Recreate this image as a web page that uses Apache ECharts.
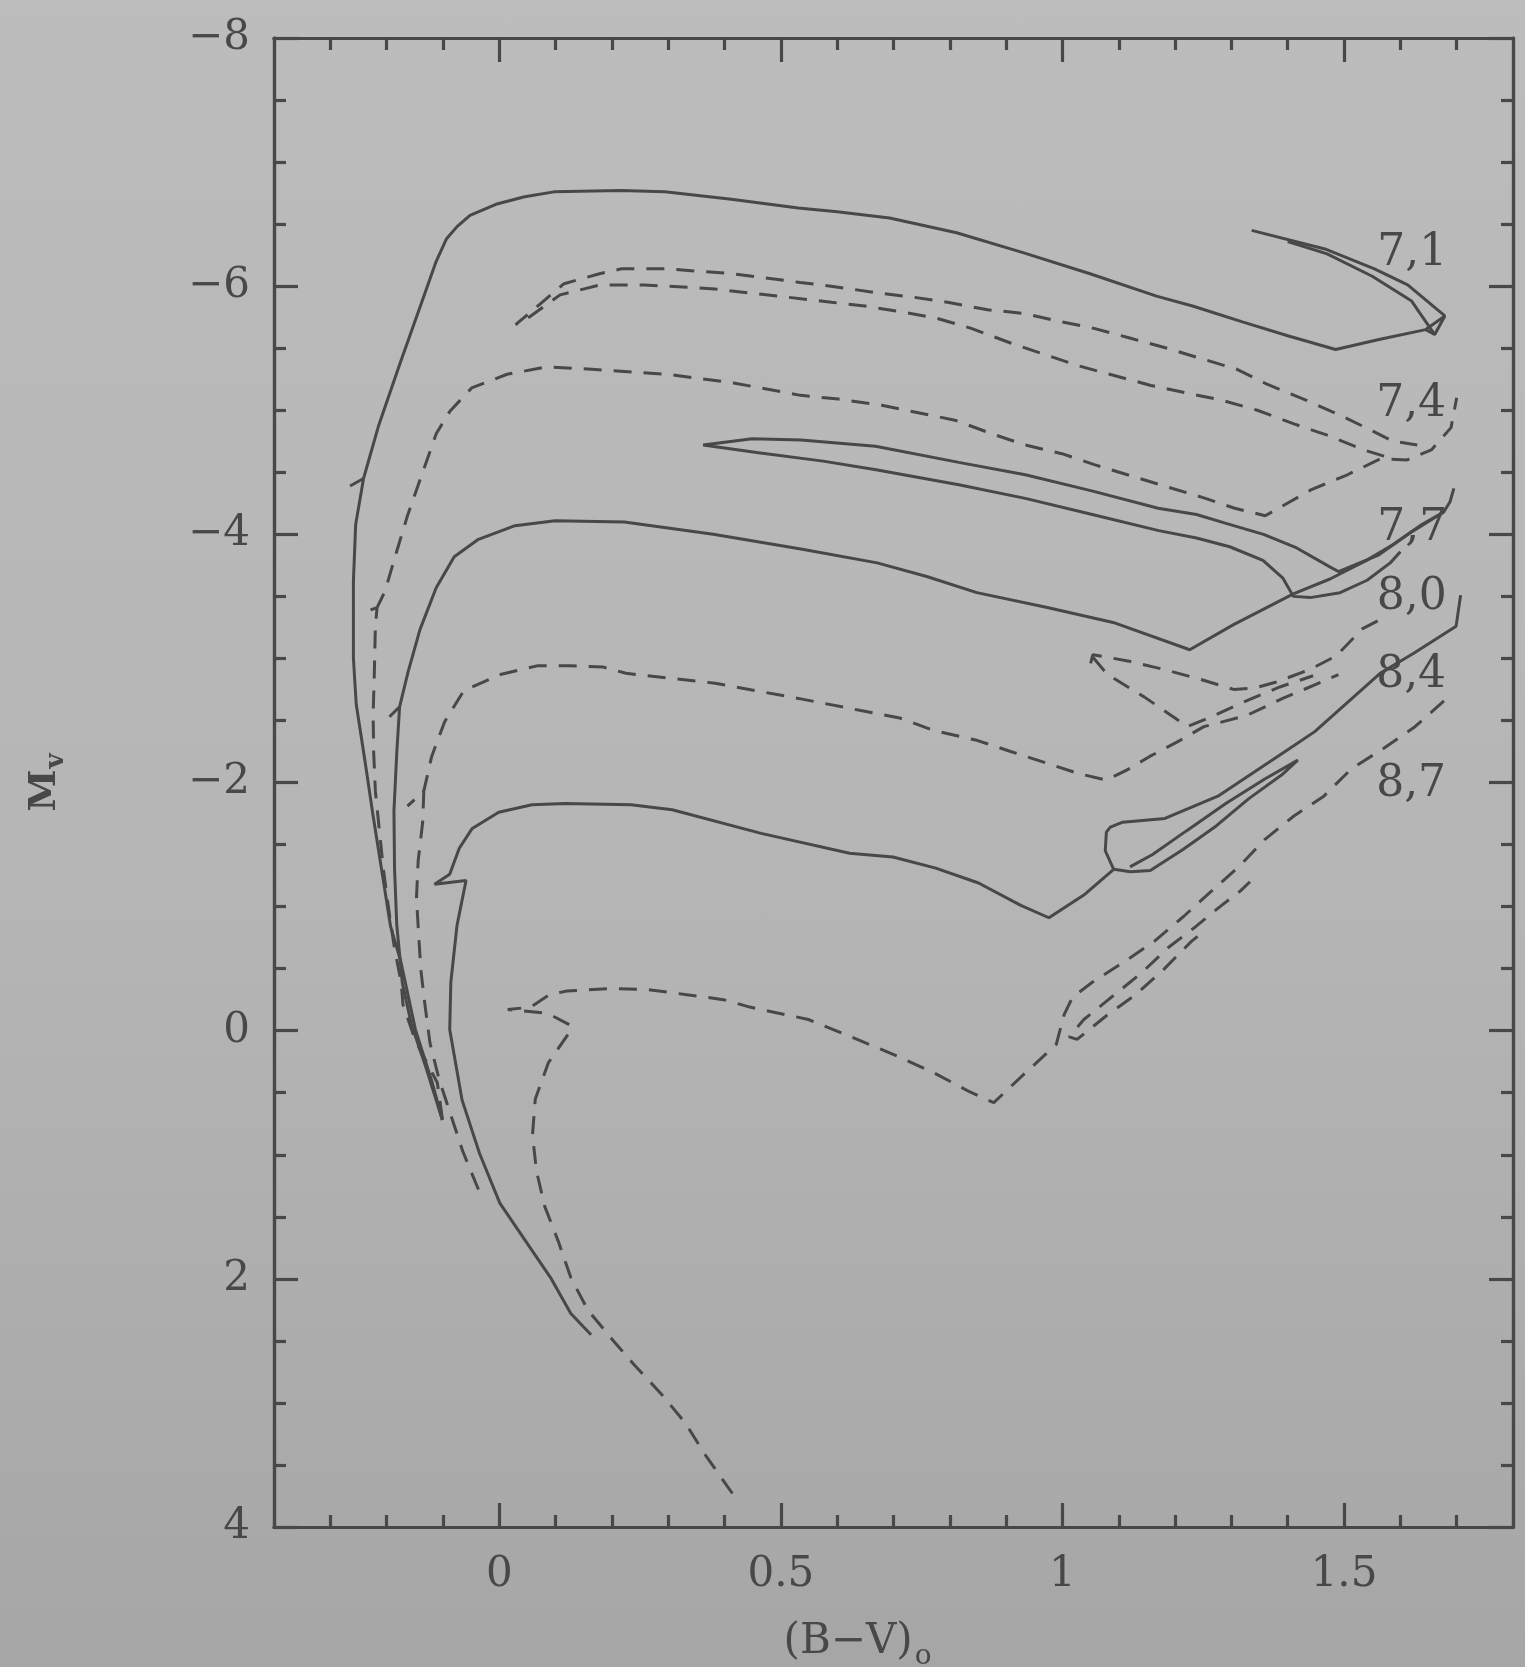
<!DOCTYPE html>
<html>
<head>
<meta charset="utf-8">
<title>Isochrones (B-V)o vs Mv</title>
<script src="https://cdn.jsdelivr.net/npm/echarts@6/dist/echarts.min.js"></script>
<style>
  html, body { margin: 0; padding: 0; }
  body { background: linear-gradient(180deg, #bcbcbc 0%, #b5b5b5 55%, #a6a6a6 100%); }
  #chart { width: 1525px; height: 1667px; }
</style>
</head>
<body>
<div id="chart"></div>
<script>
// axis ticks
var xMajorTicks = [0, 0.5, 1, 1.5];
var xMinorTicks = [-0.3, -0.2, -0.1, 0.1, 0.2, 0.3, 0.4, 0.6, 0.7, 0.8, 0.9, 1.1, 1.2, 1.3, 1.4, 1.6, 1.7];
var yMajorTicks = [-8, -6, -4, -2, 0, 2, 4];
var yMinorTicks = [-7.5, -7, -6.5, -5.5, -5, -4.5, -3.5, -3, -2.5, -1.5, -1, -0.5, 0.5, 1, 1.5, 2.5, 3, 3.5];

// isochrone labels (log age)
var labelNames = ['7,1', '7,4', '7,7', '8,0', '8,4', '8,7'];
var labelX = [1.622, 1.620, 1.622, 1.621, 1.620, 1.620];
var labelY = [-6.26, -5.04, -4.04, -3.49, -2.86, -1.98];

// isochrone tracks, [B-V, Mv]
var iso71 = [[-0.101,0.72],[-0.119,0.42],[-0.149,-0.01],[-0.175,-0.56],[-0.193,-0.84],[-0.209,-1.30],[-0.225,-1.76],[-0.238,-2.16],[-0.254,-2.63],[-0.259,-3.00],[-0.259,-3.62],[-0.255,-4.08],[-0.241,-4.45],[-0.265,-4.39],[-0.241,-4.45],[-0.214,-4.88],[-0.176,-5.38],[-0.130,-5.97],[-0.112,-6.20],[-0.094,-6.38],[-0.075,-6.48],[-0.052,-6.57],[-0.006,-6.66],[0.045,-6.72],[0.097,-6.76],[0.215,-6.77],[0.294,-6.76],[0.412,-6.70],[0.531,-6.63],[0.600,-6.60],[0.693,-6.55],[0.812,-6.43],[0.930,-6.27],[1.049,-6.10],[1.167,-5.92],[1.231,-5.84],[1.321,-5.71],[1.400,-5.60],[1.485,-5.49],[1.562,-5.57],[1.645,-5.65],[1.679,-5.76],[1.613,-6.01],[1.554,-6.14],[1.466,-6.30],[1.336,-6.45]];
var iso71Inner = [[1.645,-5.65],[1.661,-5.61],[1.679,-5.76]];
var iso71Wedge = [[1.661,-5.61],[1.620,-5.88],[1.550,-6.08],[1.470,-6.26],[1.400,-6.36]];

var iso74 = [[-0.101,0.71],[-0.110,0.42],[-0.149,0.08],[-0.171,-0.21],[-0.174,-0.38],[-0.187,-0.69],[-0.197,-1.00],[-0.206,-1.31],[-0.213,-1.62],[-0.220,-1.93],[-0.223,-2.24],[-0.224,-2.55],[-0.222,-2.85],[-0.220,-3.26],[-0.217,-3.41],[-0.235,-3.38],[-0.217,-3.41],[-0.203,-3.54],[-0.183,-3.85],[-0.163,-4.15],[-0.143,-4.41],[-0.112,-4.81],[-0.088,-4.99],[-0.049,-5.18],[0.014,-5.29],[0.085,-5.35],[0.164,-5.33],[0.298,-5.29],[0.416,-5.22],[0.535,-5.12],[0.602,-5.09],[0.679,-5.04],[0.744,-4.98],[0.809,-4.92],[0.875,-4.81],[0.934,-4.72],[0.999,-4.65],[1.058,-4.56],[1.123,-4.47],[1.188,-4.38],[1.247,-4.30],[1.306,-4.21],[1.360,-4.15],[1.442,-4.36],[1.506,-4.48],[1.565,-4.61],[1.612,-4.60],[1.655,-4.68],[1.690,-4.86],[1.700,-5.10]];
var iso74Loop = [[1.571,-4.63],[1.535,-4.68],[1.470,-4.80],[1.411,-4.89],[1.346,-5.00],[1.284,-5.08],[1.219,-5.14],[1.157,-5.20],[1.092,-5.28],[1.027,-5.36],[0.968,-5.45],[0.909,-5.54],[0.838,-5.66],[0.778,-5.74],[0.719,-5.79],[0.649,-5.84],[0.590,-5.87],[0.495,-5.92],[0.376,-5.98],[0.258,-6.01],[0.179,-6.01],[0.108,-5.93],[0.053,-5.75],[0.029,-5.69],[0.076,-5.87],[0.115,-6.02],[0.178,-6.10],[0.217,-6.14],[0.296,-6.14],[0.415,-6.10],[0.534,-6.03],[0.589,-6.00],[0.666,-5.95],[0.737,-5.91],[0.796,-5.87],[0.867,-5.81],[0.932,-5.78],[0.991,-5.72],[1.056,-5.66],[1.121,-5.58],[1.186,-5.50],[1.251,-5.41],[1.310,-5.33],[1.363,-5.21],[1.428,-5.09],[1.493,-4.96],[1.552,-4.83],[1.587,-4.75],[1.630,-4.72]];

var iso77 = [[-0.101,0.72],[-0.130,0.30],[-0.156,-0.05],[-0.172,-0.38],[-0.182,-0.85],[-0.186,-1.31],[-0.187,-1.77],[-0.182,-2.24],[-0.177,-2.61],[-0.195,-2.53],[-0.177,-2.61],[-0.162,-2.89],[-0.141,-3.23],[-0.112,-3.57],[-0.080,-3.82],[-0.037,-3.96],[0.028,-4.07],[0.099,-4.11],[0.222,-4.10],[0.380,-4.00],[0.538,-3.88],[0.671,-3.77],[0.759,-3.66],[0.848,-3.53],[0.973,-3.41],[1.090,-3.29],[1.226,-3.07],[1.303,-3.27],[1.410,-3.52],[1.475,-3.64],[1.540,-3.79],[1.588,-3.92],[1.635,-4.07],[1.677,-4.18],[1.688,-4.26],[1.695,-4.37]];
var iso77Loop = [[1.600,-3.86],[1.582,-3.77],[1.541,-3.63],[1.493,-3.53],[1.440,-3.49],[1.410,-3.50],[1.391,-3.65],[1.356,-3.79],[1.297,-3.90],[1.238,-3.97],[1.171,-4.03],[1.053,-4.16],[0.934,-4.29],[0.816,-4.40],[0.669,-4.52],[0.575,-4.59],[0.457,-4.66],[0.362,-4.72],[0.449,-4.77],[0.536,-4.76],[0.668,-4.71],[0.816,-4.58],[0.934,-4.48],[1.052,-4.35],[1.170,-4.21],[1.238,-4.16],[1.289,-4.09],[1.357,-4.00],[1.416,-3.89],[1.474,-3.74],[1.490,-3.70],[1.560,-3.83],[1.620,-4.02],[1.677,-4.18]];

var iso80 = [[-0.037,1.28],[-0.065,0.97],[-0.086,0.68],[-0.107,0.39],[-0.123,0.10],[-0.132,-0.21],[-0.139,-0.48],[-0.143,-0.76],[-0.147,-1.07],[-0.144,-1.37],[-0.136,-1.68],[-0.134,-1.93],[-0.163,-1.81],[-0.134,-1.93],[-0.120,-2.21],[-0.097,-2.49],[-0.063,-2.74],[0.002,-2.87],[0.067,-2.94],[0.126,-2.94],[0.185,-2.93],[0.225,-2.88],[0.383,-2.80],[0.540,-2.67],[0.642,-2.58],[0.711,-2.52],[0.771,-2.42],[0.848,-2.34],[0.908,-2.25],[1.030,-2.07],[1.078,-2.02],[1.114,-2.10],[1.155,-2.21],[1.209,-2.34],[1.251,-2.45],[1.327,-2.54],[1.392,-2.68],[1.450,-2.79],[1.490,-2.87]];
var iso80LoopA = [[1.050,-2.96],[1.054,-3.03],[1.116,-2.98],[1.181,-2.91],[1.246,-2.83],[1.304,-2.75],[1.340,-2.76],[1.380,-2.81],[1.439,-2.91],[1.486,-3.02],[1.533,-3.24],[1.563,-3.31]];
var iso80LoopB = [[1.054,-3.01],[1.080,-2.87],[1.145,-2.69],[1.203,-2.51],[1.221,-2.45],[1.260,-2.52],[1.322,-2.65],[1.386,-2.77],[1.445,-2.86]];

var iso84 = [[0.163,2.45],[0.127,2.28],[0.091,1.99],[0.049,1.71],[0.001,1.39],[-0.035,0.99],[-0.066,0.56],[-0.088,-0.01],[-0.086,-0.39],[-0.075,-0.85],[-0.059,-1.21],[-0.115,-1.18],[-0.088,-1.26],[-0.071,-1.47],[-0.048,-1.63],[-0.001,-1.76],[0.058,-1.82],[0.117,-1.83],[0.234,-1.82],[0.307,-1.78],[0.465,-1.59],[0.622,-1.43],[0.699,-1.40],[0.775,-1.31],[0.851,-1.19],[0.926,-1.01],[0.976,-0.91],[1.040,-1.10],[1.091,-1.30],[1.076,-1.45],[1.078,-1.60],[1.085,-1.64],[1.107,-1.68],[1.182,-1.71],[1.276,-1.89],[1.412,-2.30],[1.448,-2.41],[1.564,-2.88],[1.623,-3.04],[1.699,-3.26],[1.707,-3.51]];
var iso84Loop = [[1.091,-1.30],[1.121,-1.28],[1.156,-1.29],[1.214,-1.46],[1.273,-1.65],[1.331,-1.87],[1.389,-2.06],[1.418,-2.18],[1.360,-2.03],[1.290,-1.83],[1.220,-1.61],[1.160,-1.42],[1.120,-1.32]];

var iso87 = [[0.414,3.73],[0.366,3.42],[0.330,3.16],[0.288,2.93],[0.241,2.70],[0.199,2.48],[0.157,2.25],[0.127,1.99],[0.105,1.70],[0.081,1.42],[0.066,1.13],[0.059,0.84],[0.064,0.55],[0.087,0.26],[0.122,0.03],[0.128,-0.04],[0.086,-0.14],[0.015,-0.17],[0.056,-0.19],[0.089,-0.29],[0.120,-0.32],[0.203,-0.34],[0.265,-0.33],[0.333,-0.29],[0.398,-0.25],[0.445,-0.19],[0.549,-0.09],[0.641,0.08],[0.709,0.21],[0.772,0.34],[0.834,0.49],[0.878,0.58],[0.939,0.32],[0.989,0.11],[1.003,-0.13],[1.018,-0.27],[1.053,-0.39],[1.108,-0.55],[1.163,-0.72],[1.215,-0.92],[1.261,-1.11],[1.313,-1.32],[1.359,-1.54],[1.411,-1.73],[1.464,-1.89],[1.513,-2.11],[1.572,-2.28],[1.626,-2.45],[1.683,-2.68]];
var iso87Loop = [[1.240,-0.76],[1.229,-0.72],[1.179,-0.49],[1.130,-0.29],[1.078,-0.12],[1.026,0.07],[1.012,0.05],[1.038,-0.09],[1.087,-0.27],[1.139,-0.46],[1.188,-0.67],[1.237,-0.84],[1.277,-0.99],[1.317,-1.13],[1.333,-1.20]];

var ink = '#484848';
var serif = 'DejaVu Serif';

function track(data, dashed) {
  return {
    type: 'line',
    data: data,
    symbol: 'none',
    silent: true,
    lineStyle: { color: ink, width: 3, type: dashed ? [18, 12] : 'solid' },
    z: 3
  };
}

function xAxisDef(pos, ticks, len, withLabels) {
  return {
    type: 'value', position: pos, min: -0.4, max: 1.8,
    splitLine: { show: false },
    axisLine: { show: true, onZero: false, lineStyle: { color: ink, width: 3.2 } },
    axisTick: { show: true, inside: true, length: len, customValues: ticks, lineStyle: { color: ink, width: 3.2 } },
    axisLabel: withLabels ? {
      show: true, customValues: xMajorTicks, margin: 27,
      fontFamily: serif, fontSize: 42, color: ink,
      formatter: function (v) { return String(v); }
    } : { show: false }
  };
}

function yAxisDef(pos, ticks, len, withLabels) {
  return {
    type: 'value', position: pos, min: -8, max: 4, inverse: true,
    splitLine: { show: false },
    axisLine: { show: true, onZero: false, lineStyle: { color: ink, width: 3.2 } },
    axisTick: { show: true, inside: true, length: len, customValues: ticks, lineStyle: { color: ink, width: 3.2 } },
    axisLabel: withLabels ? {
      show: true, customValues: yMajorTicks, margin: 24,
      fontFamily: serif, fontSize: 42, color: ink,
      formatter: function (v) { return v < 0 ? '\u2212' + (-v) : String(v); }
    } : { show: false }
  };
}

var xAxes = [
  xAxisDef('bottom', xMajorTicks, 24, true),
  xAxisDef('bottom', xMinorTicks, 12, false),
  xAxisDef('top', xMajorTicks, 24, false),
  xAxisDef('top', xMinorTicks, 12, false)
];
xAxes[0].name = '{n|(B\u2212V)}{s|o}';
xAxes[0].nameLocation = 'middle';
xAxes[0].nameGap = 86;
xAxes[0].nameTextStyle = {
  color: ink, fontFamily: serif, padding: [0, 72, 0, 0],
  rich: {
    n: { fontSize: 42, fontFamily: serif, color: ink },
    s: { fontSize: 28, fontFamily: serif, color: ink, padding: [30, 0, 0, 2] }
  }
};

var yAxes = [
  yAxisDef('left', yMajorTicks, 24, true),
  yAxisDef('left', yMinorTicks, 12, false),
  yAxisDef('right', yMajorTicks, 24, false),
  yAxisDef('right', yMinorTicks, 12, false)
];
yAxes[0].name = '{m|M}{v|v}';
yAxes[0].nameLocation = 'middle';
yAxes[0].nameRotate = 90;
yAxes[0].nameGap = 205;
yAxes[0].nameTextStyle = {
  color: ink, fontFamily: serif,
  rich: {
    m: { fontSize: 38, fontWeight: 'bold', fontFamily: serif, color: ink },
    v: { fontSize: 26, fontWeight: 'bold', fontFamily: serif, color: ink, padding: [22, 0, 0, 1] }
  }
};

var chart = echarts.init(document.getElementById('chart'), null, { renderer: 'canvas' });
chart.setOption({
  animation: false,
  backgroundColor: 'transparent',
  grid: { left: 274, top: 38, width: 1239, height: 1489, outerBoundsMode: 'none', containLabel: false },
  xAxis: xAxes,
  yAxis: yAxes,
  series: [
    track(iso71, false), track(iso71Inner, false), track(iso71Wedge, false),
    track(iso74, true), track(iso74Loop, true),
    track(iso77, false), track(iso77Loop, false),
    track(iso80, true), track(iso80LoopA, true), track(iso80LoopB, true),
    track(iso84, false), track(iso84Loop, false),
    track(iso87, true), track(iso87Loop, true),
    {
      type: 'scatter',
      symbolSize: 1,
      silent: true,
      itemStyle: { color: ink, opacity: 0 },
      data: labelNames.map(function (n, i) { return { name: n, value: [labelX[i], labelY[i]] }; }),
      label: {
        show: true, position: [0, 0], align: 'center', verticalAlign: 'middle',
        formatter: '{b}', fontFamily: serif, fontSize: 44, color: ink, opacity: 1,
        textBorderWidth: 0
      },
      labelLayout: { hideOverlap: false },
      z: 4
    }
  ]
});
</script>
</body>
</html>
